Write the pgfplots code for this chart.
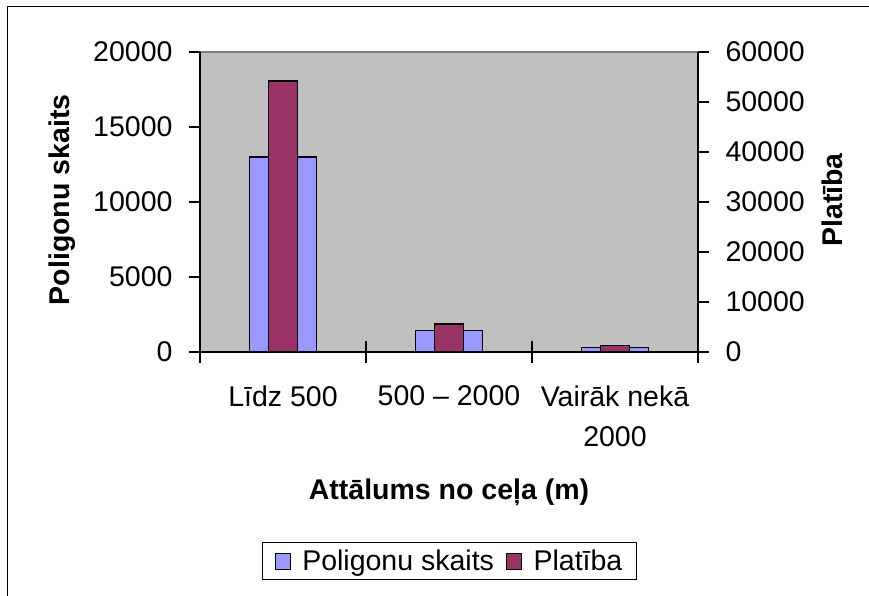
\documentclass[border=0pt]{standalone}
\usepackage{fontspec}
\setmainfont{Liberation Sans}
\usepackage{pgfplots}
\pgfplotsset{compat=1.18}
\definecolor{plotgray}{RGB}{192,192,192}
\definecolor{barblue}{RGB}{153,153,255}
\definecolor{barmaroon}{RGB}{153,51,102}
\newcommand{\cf}{\fontsize{28.5}{40}\selectfont}
\pgfplotsset{sqlegend/.style={legend image code/.code={\path[draw=none,fill=none] (0pt,0pt) -- (25pt,0pt); \draw[##1] (0pt,-8pt) rectangle (15pt,8pt);}}}
\begin{document}
\begin{tikzpicture}[x=1pt,y=1pt]
\useasboundingbox (0,0) rectangle (869,595);
\draw[line width=1pt] (7,-20) -- (7,588) -- (900,588);
\begin{axis}[
  at={(200pt,243pt)}, anchor=south west,
  scale only axis, width=498pt, height=300pt,
  xmin=-0.5, xmax=2.5, ymin=0, ymax=20000,
  axis x line=bottom, axis y line=left,
  axis line style={-, line width=1.2pt, black},
  axis background/.style={fill=plotgray, draw=gray, line width=1.2pt},
  xtick={0,1,2},
  xticklabels={L\={\i}dz 500, 500 – 2000, {Vair\={a}k nek\={a}\\2000}},
  major x tick style={draw=none},
  minor xtick={-0.5,0.5,1.5,2.5},
  minor tick length=22pt,
  xtick align=center,
  ytick={0,5000,10000,15000,20000},
  scaled y ticks=false,
  ytick align=outside,
  major tick length=11pt,
  tick style={line width=1.2pt, black},
  tick label style={font=\cf},
  /pgf/number format/assume math mode=true,
  /pgf/number format/1000 sep={},
  xticklabel style={align=center, yshift=-25pt},
  yticklabel style={xshift=-13pt},
  xlabel={Attālums no ceļa (m)},
  xlabel style={font=\cf\bfseries, at={(axis description cs:0.5,-0.4667)}, anchor=center},
  ylabel={Poligonu skaits},
  ylabel style={font=\cf\bfseries, at={(axis description cs:-0.277,0.507)}, anchor=center},
]
\addplot[ybar, bar width=0.4, bar shift=0pt, fill=barblue, draw=black, line width=1.2pt]
  coordinates {(0,13000) (1,1450) (2,290)};
\end{axis}
\begin{axis}[
  at={(200pt,243pt)}, anchor=south west,
  scale only axis, width=498pt, height=300pt,
  xmin=-0.5, xmax=2.5, ymin=0, ymax=60000,
  axis x line=none, axis y line=right,
  axis line style={-, line width=1.2pt, black},
  ytick={0,10000,20000,30000,40000,50000,60000},
  scaled y ticks=false,
  ytick align=outside,
  major tick length=11pt,
  tick style={line width=1.2pt, black},
  tick label style={font=\cf},
  yticklabel style={xshift=13pt},
  /pgf/number format/assume math mode=true,
  /pgf/number format/1000 sep={},
  ylabel={Platība},
  ylabel style={font=\cf\bfseries, at={(axis description cs:1.269,0.507)}, anchor=center},
  legend columns=2,
  legend style={at={(axis description cs:0.501,-0.697)}, anchor=center, draw=black,
    line width=1.2pt, font=\cf, nodes={inner sep=2pt}, inner xsep=12pt, inner ysep=5.5pt,
    /tikz/every even column/.append style={column sep=10pt}},
]
\addlegendimage{sqlegend, fill=barblue, draw=black, line width=1.2pt}
\addlegendentry{Poligonu skaits}
\addplot[ybar, bar width=0.175, bar shift=0pt, fill=barmaroon, draw=black, line width=1.2pt, sqlegend]
  coordinates {(0,54200) (1,5600) (2,1260)};
\addlegendentry{Platība}
\end{axis}
\end{tikzpicture}
\end{document}
